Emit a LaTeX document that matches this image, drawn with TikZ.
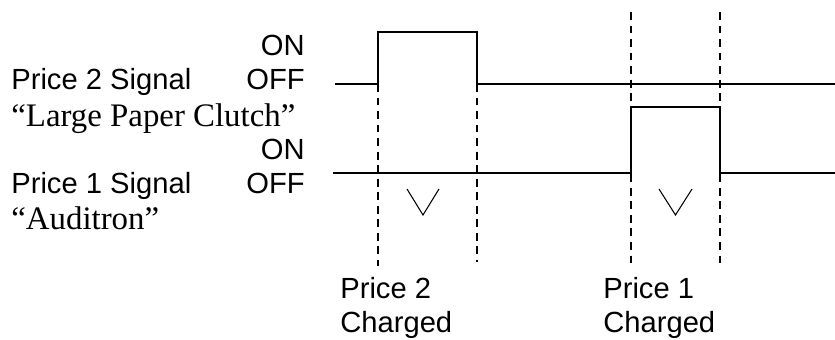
\documentclass[tikz,border=0pt]{standalone}
\usepackage{fontspec}
\setmainfont{Liberation Serif}
\setsansfont{Liberation Sans}
\usetikzlibrary{positioning}

\begin{document}
\begin{tikzpicture}[x=0.02cm, y=-0.02cm,
    sans/.style={font=\sffamily\fontsize{16.6}{19}\selectfont, inner sep=0pt},
    serif/.style={font=\rmfamily\fontsize{18.7}{20}\selectfont, inner sep=0pt},
    wave/.style={line width=1.1pt},
    guide/.style={line width=0.8pt, dash pattern=on 4.5pt off 3.2pt},
    vmark/.style={line width=0.6pt}]

    \useasboundingbox (0,0) rectangle (835,339);

    \node[sans, anchor=base west] (sig2) at (11,89) {Price 2 Signal};
    \node[sans, anchor=base east] (off2) at (305,89) {OFF};
    \node[sans, anchor=base east] (on2) at (305,55) {ON};
    \node[serif, anchor=base west] (clutch) at (11,126) {“Large Paper Clutch”};
    \node[sans, anchor=base west] (sig1) at (11,193) {Price 1 Signal};
    \node[sans, anchor=base east] (off1) at (305,193) {OFF};
    \node[sans, anchor=base east] (on1) at (305,159) {ON};
    \node[serif, anchor=base west] (auditron) at (11,229) {“Auditron”};

    \node[sans, anchor=base west] (price2) at (340,298) {Price 2};
    \node[sans, anchor=base west] (charged2) at (340,332) {Charged};
    \node[sans, anchor=base west] (price1) at (603,298) {Price 1};
    \node[sans, anchor=base west] (charged1) at (603,332) {Charged};

    \coordinate (s2start) at (335,84);
    \coordinate (s2rise) at (378,84);
    \coordinate (s2fall) at (477,84);
    \coordinate (s2end) at (835,84);
    \coordinate (s1start) at (333,173);
    \coordinate (s1rise) at (631,173);
    \coordinate (s1fall) at (720,173);
    \coordinate (s1end) at (835,173);

    \coordinate (g2rise) at (378,266);
    \coordinate (g2fall) at (477,262);
    \coordinate (g1risetop) at (631,12);
    \coordinate (g1rise) at (631,263);
    \coordinate (g1falltop) at (720,12);
    \coordinate (g1fall) at (720,263);

    \draw[wave] (s2start) -- (s2rise) -- ++(0,-52) -| (s2fall) -- (s2end);
    \draw[wave] (s1start) -- (s1rise) -- ++(0,-66) -| (s1fall) -- (s1end);

    \draw[guide] (s2rise) -- (g2rise);
    \draw[guide] (s2fall) -- (g2fall);
    \draw[guide] (g1risetop) -- (g1rise);
    \draw[guide] (g1falltop) -- (g1fall);

    \draw[vmark] (407,189) -- (423,215) -- (439,189);
    \draw[vmark] (659,189) -- (675.5,215) -- (692,189);
\end{tikzpicture}
\end{document}
